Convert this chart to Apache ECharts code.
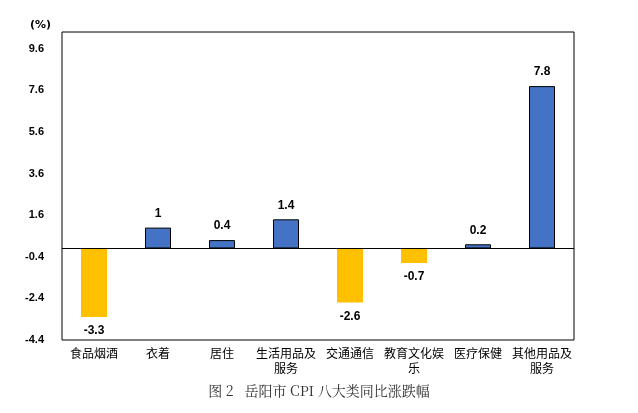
<!DOCTYPE html>
<html><head><meta charset="utf-8">
<script src="https://cdn.jsdelivr.net/npm/echarts@6/dist/echarts.min.js"></script>
<style>html,body{margin:0;padding:0;background:#fff}#c{width:638px;height:413px}</style>
</head><body><div id="c"></div>
<script>
const categories = ['食品烟酒','衣着','居住','生活用品及\n服务','交通通信','教育文化娱\n乐','医疗保健','其他用品及\n服务'];
const values = [-3.3, 1, 0.4, 1.4, -2.6, -0.7, 0.2, 7.8];
const chart = echarts.init(document.getElementById('c'));
chart.setOption({
  animation:false,
  grid:{left:62,right:64,top:32,bottom:73,show:true,borderColor:'#000',borderWidth:1},
  graphic:[
    {type:'text',left:30,top:20,style:{text:'(%)',font:'bold 11px "DejaVu Sans"',fill:'#000'}},
    {type:'text',left:'center',top:384,style:{text:'图 2   岳阳市 CPI 八大类同比涨跌幅',font:'14px "Noto Serif CJK SC","Liberation Serif",serif',fill:'#333'}}
  ],
  xAxis:{type:'category',data:categories,axisLine:{onZero:false,show:false},axisTick:{show:false},
    axisLabel:{color:'#000',fontSize:12,lineHeight:15,margin:6,interval:0,fontFamily:'Noto Sans CJK SC'}},
  yAxis:{type:'value',min:-4.4,max:10.4,interval:2,splitLine:{show:false},
    axisLine:{show:false},axisTick:{show:false},
    axisLabel:{showMaxLabel:false,color:'#000',fontSize:11,fontWeight:'bold',margin:18,formatter:v=>v.toFixed(1)}},
  series:[{type:'bar',barWidth:26,
    data:values.map(v=>({value:v,itemStyle:v<0?{color:'#FFC000',borderWidth:0}:{color:'#4472C4',borderColor:'#000',borderWidth:1},
      label:{show:true,position:v<0?'bottom':'top',distance:8}})),
    label:{color:'#000',fontSize:12,fontWeight:'bold'},
    markLine:{silent:true,symbol:'none',label:{show:false},lineStyle:{color:'#000',type:'solid',width:1},data:[{yAxis:0}]}
  }]
});
</script></body></html>
